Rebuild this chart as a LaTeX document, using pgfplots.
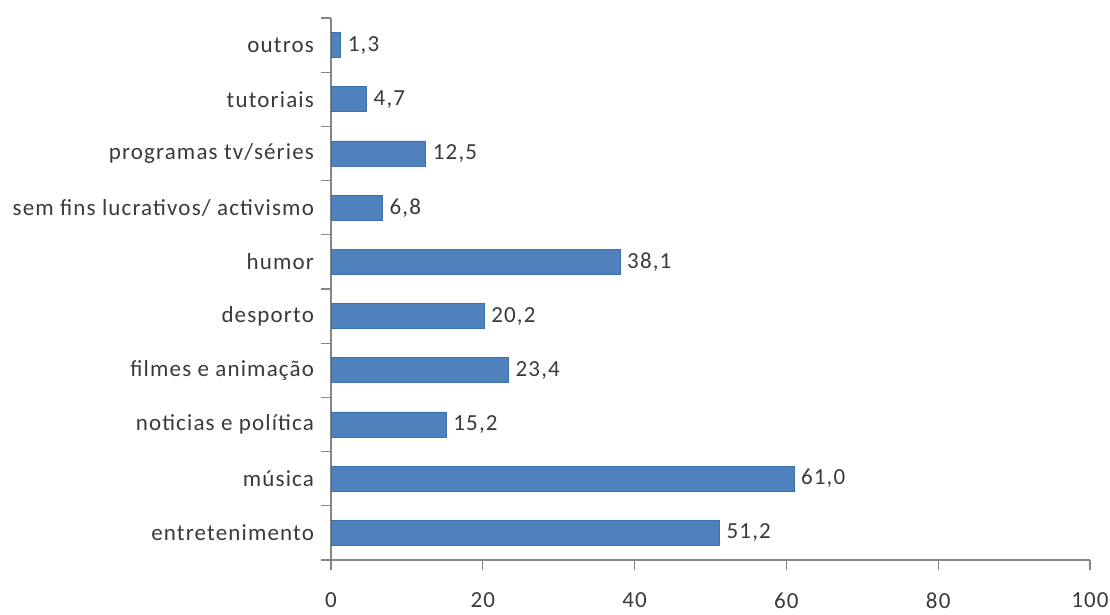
\documentclass[border=0pt]{standalone}
\usepackage{pgfplots}
\pgfplotsset{compat=1.18}
\usepackage{fontspec}
\setmainfont[LetterSpace=5]{Carlito}
\definecolor{barfill}{HTML}{4F81BD}
\definecolor{baredge}{HTML}{3E70AA}
\definecolor{axgray}{HTML}{868686}
\definecolor{txt}{HTML}{3A3A3A}
\begin{document}
\begin{tikzpicture}
\begin{axis}[name=ax,
  scale only axis, width=379.5pt, height=271pt,
  xbar, bar width=12.5pt,
  xmin=0, xmax=100, ymin=-0.5, ymax=9.5,
  xtick={0,20,...,100},
  ytick={-0.5,0.5,...,9.5}, yticklabels={},
  extra y ticks={0,1,2,3,4,5,6,7,8,9},
  extra y tick labels={entretenimento,música,noticias e política,filmes e animação,desporto,humor,sem fins lucrativos/ activismo,programas tv/séries,tutoriais,outros},
  extra y tick style={major tick length=0pt, yticklabel style={xshift=-5pt}},
  axis x line*=bottom, axis y line*=left,
  axis line style={axgray, line width=0.6pt, -},
  tick style={axgray, line width=0.6pt},
  major tick length=5pt, tick align=outside,
  /pgf/number format/assume math mode=true,
  ticklabel style={font=\fontsize{11.5}{13}\selectfont, text=txt},
  xticklabel style={yshift=-8pt},
  nodes near coords={\pgfmathprintnumber[fixed, fixed zerofill, precision=1, use comma]{\pgfplotspointmeta}},
  nodes near coords style={font=\fontsize{11.5}{13}\selectfont, text=txt, anchor=west, /pgf/number format/assume math mode=true},
  point meta=explicit symbolic,
]
\addplot[fill=barfill, draw=baredge, line width=0.4pt] coordinates {
  (51.2,0) [51.2]
  (61.0,1) [61.0]
  (15.2,2) [15.2]
  (23.4,3) [23.4]
  (20.2,4) [20.2]
  (38.1,5) [38.1]
  (6.8,6) [6.8]
  (12.5,7) [12.5]
  (4.7,8) [4.7]
  (1.3,9) [1.3]
};
\end{axis}
\pgfresetboundingbox
\path (ax.south west) ++(-165.5pt,-27.5pt) coordinate (bl);
\path (ax.north east) ++(10pt,9pt) coordinate (tr);
\path (bl) rectangle (tr);
\end{tikzpicture}
\end{document}
